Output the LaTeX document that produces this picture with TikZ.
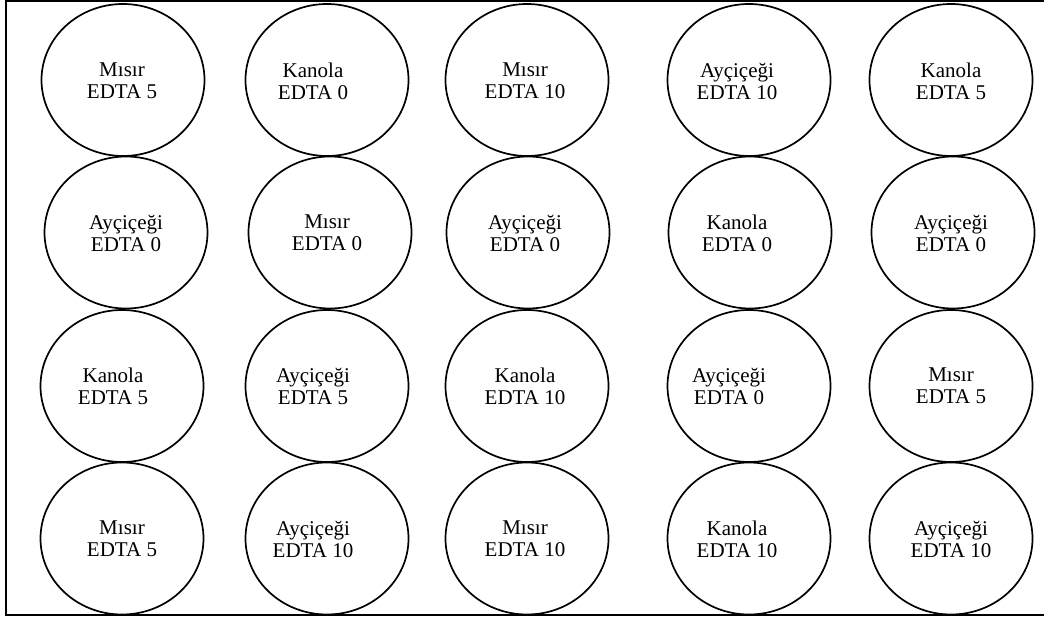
\documentclass[tikz,border=0pt]{standalone}
\usepackage{fontspec}
\setmainfont{Liberation Serif}
\usetikzlibrary{shapes.geometric}
\begin{document}
\begin{tikzpicture}[x=1pt,y=-1pt,
  well/.style={draw=black,line width=1.7pt,ellipse,minimum width=163pt,minimum height=152pt,inner sep=0pt},
  lbl/.style={align=center,font=\fontsize{21pt}{22pt}\selectfont,inner sep=0pt},
  frame/.style={draw=black,line width=1.7pt}]
\useasboundingbox (0,0) rectangle (1044,621);
% frame
\coordinate (ftl) at (6,0.8);
\coordinate (fbl) at (6,615);
\coordinate (ftr) at (1044,0.8);
\coordinate (fbr) at (1044,615);
\draw[frame] (ftr) -- (ftl) -- (fbl) -- (fbr);
% row 1
\node[well] (c11) at (123,80) {};
\node[well] (c12) at (327,80) {};
\node[well] (c13) at (527,80) {};
\node[well] (c14) at (749,80) {};
\node[well] (c15) at (951,80) {};
% row 2
\node[well] (c21) at (126,232.5) {};
\node[well] (c22) at (330,232.5) {};
\node[well] (c23) at (528,232.5) {};
\node[well] (c24) at (750,232.5) {};
\node[well] (c25) at (953,232.5) {};
% row 3
\node[well] (c31) at (122,386) {};
\node[well] (c32) at (327,386) {};
\node[well] (c33) at (527,386) {};
\node[well] (c34) at (749,386) {};
\node[well] (c35) at (951,386) {};
% row 4
\node[well] (c41) at (122,538.5) {};
\node[well] (c42) at (327,538.5) {};
\node[well] (c43) at (527,538.5) {};
\node[well] (c44) at (749,538.5) {};
\node[well] (c45) at (951,538.5) {};
% labels
\node[lbl] (t11) at (122,81) {Mısır\\EDTA 5};
\node[lbl] (t12) at (313,81) {Kanola\\EDTA 0};
\node[lbl] (t13) at (525,81) {Mısır\\EDTA 10};
\node[lbl] (t14) at (737,81) {Ayçiçeği\\EDTA 10};
\node[lbl] (t15) at (951,81) {Kanola\\EDTA 5};
\node[lbl] (t21) at (126,233) {Ayçiçeği\\EDTA 0};
\node[lbl] (t22) at (327,233) {Mısır\\EDTA 0};
\node[lbl] (t23) at (525,233) {Ayçiçeği\\EDTA 0};
\node[lbl] (t24) at (737,233) {Kanola\\EDTA 0};
\node[lbl] (t25) at (951,233) {Ayçiçeği\\EDTA 0};
\node[lbl] (t31) at (113,386) {Kanola\\EDTA 5};
\node[lbl] (t32) at (313,386) {Ayçiçeği\\EDTA 5};
\node[lbl] (t33) at (525,386) {Kanola\\EDTA 10};
\node[lbl] (t34) at (729,386) {Ayçiçeği\\EDTA 0};
\node[lbl] (t35) at (951,386) {Mısır\\EDTA 5};
\node[lbl] (t41) at (122,539) {Mısır\\EDTA 5};
\node[lbl] (t42) at (313,539) {Ayçiçeği\\EDTA 10};
\node[lbl] (t43) at (525,539) {Mısır\\EDTA 10};
\node[lbl] (t44) at (737,539) {Kanola\\EDTA 10};
\node[lbl] (t45) at (951,539) {Ayçiçeği\\EDTA 10};
\end{tikzpicture}
\end{document}
